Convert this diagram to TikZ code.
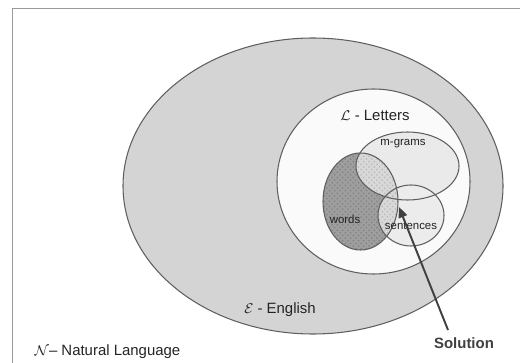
\documentclass[tikz,border=0pt]{standalone}
\usepackage{fontspec}
\setmainfont{Liberation Sans}
\usetikzlibrary{shapes.geometric,arrows.meta,patterns}
\pgfdeclarelayer{bg}
\pgfsetlayers{bg,main}
\definecolor{ringgray}{RGB}{212,212,212}
\definecolor{lettersfill}{RGB}{250,250,250}
\definecolor{gramsfill}{RGB}{234,234,234}
\definecolor{wordsfill}{RGB}{158,158,158}
\definecolor{mixfill}{RGB}{216,216,216}
\definecolor{sentfill}{RGB}{236,236,236}
\definecolor{rim}{RGB}{95,95,95}
\definecolor{ink}{RGB}{35,35,35}
\tikzset{
        region/.style={ellipse, draw=rim, line width=0.6pt, inner sep=0pt, outer sep=0pt},
        outlbl/.style={text=ink, inner sep=1pt, font=\fontsize{8.5}{10}\selectfont},
        inlbl/.style={text=ink, inner sep=1pt, font=\fontsize{6.5}{8}\selectfont},
        pointer/.style={-{Triangle[length=6pt,width=5pt]}, line width=1.1pt, draw=black!75, fill=black!75},
}

\begin{document}
\begin{tikzpicture}
        \useasboundingbox (0cm,0cm) rectangle (10.4cm,7.24cm);
        \clip (0cm,0cm) rectangle (10.4cm,7.24cm);
        \draw [draw=black!40, line width=0.5pt] (0.24cm,-1cm) rectangle (11cm,7.08cm);
        % the nested sets
        \node (e) [region, minimum width=7.60cm, minimum height=5.92cm] at (6.26cm, 3.52cm) {};
        \node (l) [region, minimum width=3.86cm, minimum height=3.70cm] at (7.47cm, 3.61cm) {};
        \node (m) [region, minimum width=2.06cm, minimum height=1.36cm] at (8.15cm, 3.92cm) {};
        \node (w) [region, minimum width=1.50cm, minimum height=1.94cm] at (7.21cm, 3.21cm) {};
        \node (s) [region, minimum width=1.32cm, minimum height=1.22cm] at (8.22cm, 2.93cm) {};
        % labels
        \node (ltxt) [outlbl] at (7.50cm, 4.94cm) {$\mathcal{L}$ - Letters};
        \node (mtxt) [inlbl] at (8.06cm, 4.36cm) {m-grams};
        \node (wtxt) [inlbl] at (6.90cm, 2.86cm) {words};
        \node (stxt) [inlbl] at (8.22cm, 2.72cm) {sentences};
        \node (etxt) [outlbl] at (5.60cm, 1.04cm) {$\mathcal{E}$ - English};
        \node (ntxt) [outlbl] at (2.15cm, 0.20cm) {$\mathcal{N}$– Natural Language};
        \node (sol) [outlbl, font=\fontsize{8.5}{10}\selectfont\bfseries, text=black!75] at (9.28cm, 0.38cm) {Solution};
        \coordinate (tail) at (8.96cm, 0.64cm);
        \coordinate (tip) at (7.98cm, 3.10cm);
        \draw [pointer] (tail) -- (tip);
        \begin{pgfonlayer}{bg}
                \fill [ringgray] (e.center) ellipse [x radius=3.80cm, y radius=2.96cm];
                \fill [lettersfill] (l.center) ellipse [x radius=1.93cm, y radius=1.85cm];
                \fill [gramsfill] (m.center) ellipse [x radius=1.03cm, y radius=0.68cm];
                \fill [sentfill] (s.center) ellipse [x radius=0.66cm, y radius=0.61cm];
                \fill [wordsfill] (w.center) ellipse [x radius=0.75cm, y radius=0.97cm];
                \fill [pattern=crosshatch dots, pattern color=black!50] (w.center) ellipse [x radius=0.75cm, y radius=0.97cm];
                \begin{scope}
                        \clip (w.center) ellipse [x radius=0.75cm, y radius=0.97cm];
                        \fill [mixfill] (m.center) ellipse [x radius=1.03cm, y radius=0.68cm];
                        \fill [mixfill] (s.center) ellipse [x radius=0.66cm, y radius=0.61cm];
                        \fill [pattern=crosshatch dots, pattern color=black!28] (m.center) ellipse [x radius=1.03cm, y radius=0.68cm];
                        \fill [pattern=crosshatch dots, pattern color=black!28] (s.center) ellipse [x radius=0.66cm, y radius=0.61cm];
                \end{scope}
        \end{pgfonlayer}
\end{tikzpicture}
\end{document}
